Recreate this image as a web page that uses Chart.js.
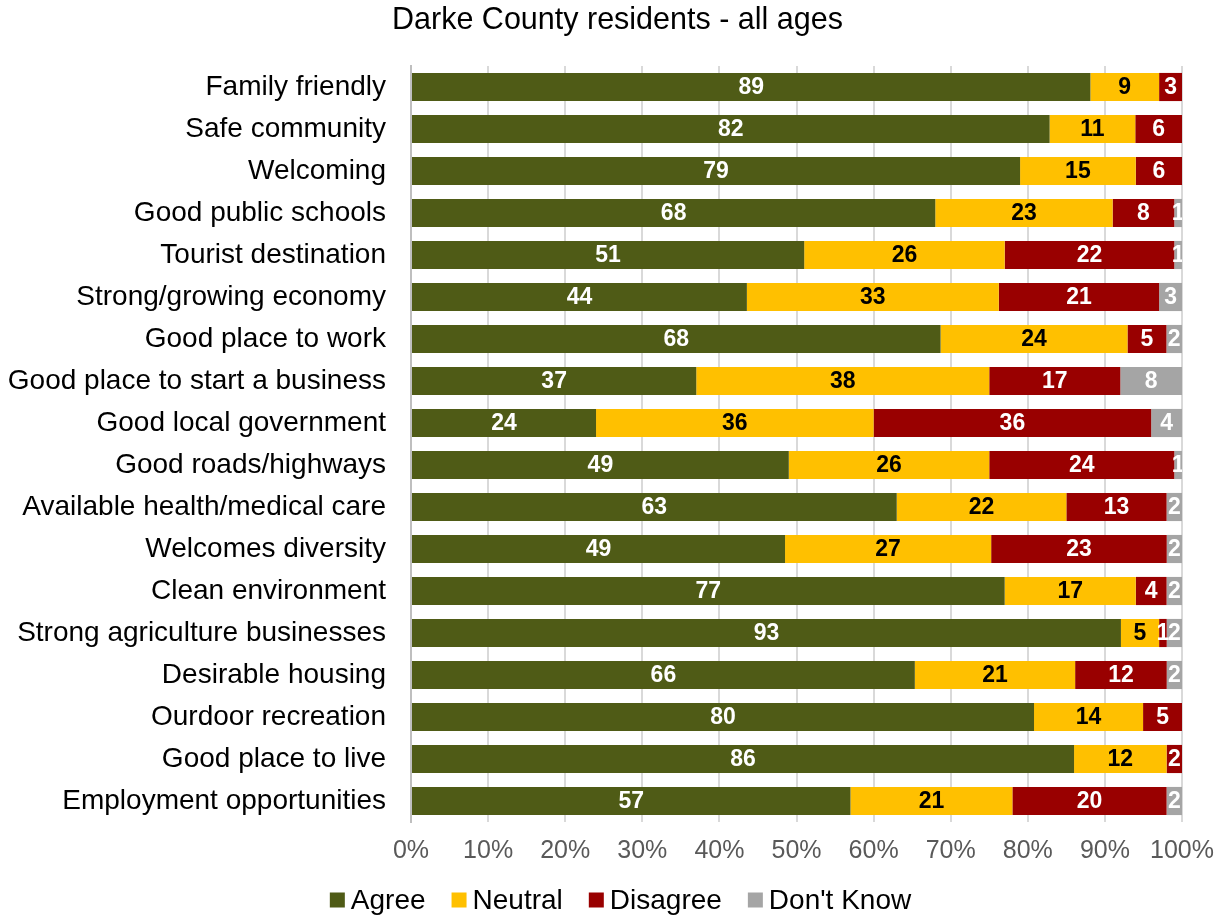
<!DOCTYPE html>
<html>
<head>
<meta charset="utf-8">
<title>Darke County residents - all ages</title>
<script src="https://cdn.jsdelivr.net/npm/chart.js@4.4.1/dist/chart.umd.min.js"></script>
<style>
    html, body { margin: 0; padding: 0; background: #ffffff; }
    #chartBox { width: 1217px; height: 915px; }
</style>
</head>
<body>
<div id="chartBox">
    <canvas id="perceptionChart" width="1217" height="915"></canvas>
</div>
<script>
// Survey statements, top to bottom
const statements = [
    'Family friendly',
    'Safe community',
    'Welcoming',
    'Good public schools',
    'Tourist destination',
    'Strong/growing economy',
    'Good place to work',
    'Good place to start a business',
    'Good local government',
    'Good roads/highways',
    'Available health/medical care',
    'Welcomes diversity',
    'Clean environment',
    'Strong agriculture businesses',
    'Desirable housing',
    'Ourdoor recreation',
    'Good place to live',
    'Employment opportunities'
];

// Response percentages (rounded, as reported)
const agree     = [89, 82, 79, 68, 51, 44, 68, 37, 24, 49, 63, 49, 77, 93, 66, 80, 86, 57];
const neutral   = [ 9, 11, 15, 23, 26, 33, 24, 38, 36, 26, 22, 27, 17,  5, 21, 14, 12, 21];
const disagree  = [ 3,  6,  6,  8, 22, 21,  5, 17, 36, 24, 13, 23,  4,  1, 12,  5,  2, 20];
const dontKnow  = [ 0,  0,  0,  1,  1,  3,  2,  8,  4,  1,  2,  2,  2,  2,  2,  0,  0,  2];

const tickLabels = ['0%', '10%', '20%', '30%', '40%', '50%', '60%', '70%', '80%', '90%', '100%'];

const chartTitle = 'Darke County residents - all ages';

const FONT = "'Liberation Sans', Arial, sans-serif";

// rows don't always add to exactly 100, so scale each row to 100%
const rowTotals = statements.map((s, i) => agree[i] + neutral[i] + disagree[i] + dontKnow[i]);
function toShare(values) {
    return values.map((v, i) => v / rowTotals[i] * 100);
}

function makeSeries(label, values, color, textColor) {
    return {
        label: label,
        data: toShare(values),
        rawValues: values,
        labelColor: textColor,
        backgroundColor: color,
        borderWidth: 0,
        categoryPercentage: 1.0,
        barPercentage: 0.67
    };
}

// Writes the reported number in the middle of each segment
const segmentLabels = {
    id: 'segmentLabels',
    afterDatasetsDraw(chart) {
        const ctx = chart.ctx;
        const area = chart.chartArea;
        ctx.save();
        ctx.beginPath();
        ctx.rect(area.left, area.top, area.right - area.left, area.bottom - area.top);
        ctx.clip();
        ctx.font = 'bold 23px ' + FONT;
        ctx.textAlign = 'center';
        ctx.textBaseline = 'middle';
        chart.data.datasets.forEach((ds, i) => {
            const meta = chart.getDatasetMeta(i);
            meta.data.forEach((bar, j) => {
                const value = ds.rawValues[j];
                if (!value) return;
                const p = bar.getProps(['x', 'y', 'base'], true);
                ctx.fillStyle = ds.labelColor;
                ctx.fillText(String(value), (p.x + p.base) / 2, p.y + 1);
            });
        });
        ctx.restore();
    }
};

// Title sits a little right of the canvas centre
const topTitle = {
    id: 'topTitle',
    afterDraw(chart) {
        const ctx = chart.ctx;
        ctx.save();
        ctx.font = '30.5px ' + FONT;
        ctx.fillStyle = '#000000';
        ctx.textAlign = 'center';
        ctx.textBaseline = 'middle';
        ctx.fillText(chartTitle, chart.width / 2 + 9, 21);
        ctx.restore();
    }
};

// Compact legend row under the axis (small square, tight gap to text)
const bottomLegend = {
    id: 'bottomLegend',
    afterDraw(chart) {
        const ctx = chart.ctx;
        const box = 15, gap = 6, itemGap = 26;
        const y = 900;
        ctx.save();
        ctx.font = '28px ' + FONT;
        ctx.textBaseline = 'middle';
        ctx.textAlign = 'left';
        const items = chart.data.datasets.map(ds => ({
            text: ds.label,
            color: ds.backgroundColor,
            width: box + gap + ctx.measureText(ds.label).width
        }));
        const total = items.reduce((sum, it) => sum + it.width, 0) + itemGap * (items.length - 1);
        let x = chart.width / 2 + 12 - total / 2;
        items.forEach(it => {
            ctx.fillStyle = it.color;
            ctx.fillRect(x, y - box / 2, box, box);
            ctx.fillStyle = '#000000';
            ctx.fillText(it.text, x + box + gap, y + 1);
            x += it.width + itemGap;
        });
        ctx.restore();
    }
};

const ctx = document.getElementById('perceptionChart');
new Chart(ctx, {
    type: 'bar',
    data: {
        labels: statements,
        datasets: [
            makeSeries('Agree', agree, '#4F5B16', '#FFFFFF'),
            makeSeries('Neutral', neutral, '#FFC000', '#000000'),
            makeSeries('Disagree', disagree, '#990000', '#FFFFFF'),
            makeSeries("Don't Know", dontKnow, '#A5A5A5', '#FFFFFF')
        ]
    },
    options: {
        indexAxis: 'y',
        responsive: false,
        animation: false,
        layout: {
            padding: { left: 0, right: 0, top: 66, bottom: 49 }
        },
        plugins: {
            title: { display: false },
            legend: { display: false },
            tooltip: { enabled: false }
        },
        scales: {
            x: {
                stacked: true,
                min: 0,
                max: 100,
                border: { display: false },
                grid: {
                    color: '#D9D9D9',
                    lineWidth: 2,
                    drawTicks: false
                },
                ticks: {
                    stepSize: 10,
                    padding: 14,
                    color: '#595959',
                    font: { family: FONT, size: 25 },
                    callback: (value) => tickLabels[Math.round(value / 10)]
                },
                afterFit: (scale) => {
                    scale.height = 44;
                    scale.paddingLeft = 0;
                    scale.paddingRight = 35;
                }
            },
            y: {
                stacked: true,
                border: { display: true, color: '#BFBFBF', width: 2 },
                grid: { display: false, drawTicks: false },
                ticks: {
                    padding: 25,
                    color: '#000000',
                    font: { family: FONT, size: 28 }
                },
                afterFit: (scale) => {
                    scale.width = 411;
                    scale.paddingTop = 0;
                    scale.paddingBottom = 0;
                }
            }
        }
    },
    plugins: [segmentLabels, topTitle, bottomLegend]
});
</script>
</body>
</html>
